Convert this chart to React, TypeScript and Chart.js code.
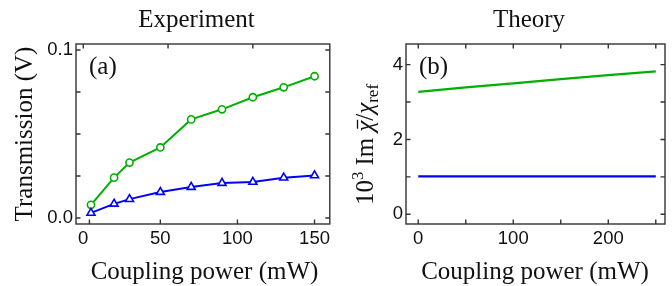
import React, { useEffect, useRef } from 'react';
import { Chart, registerables } from 'chart.js';

Chart.register(...registerables);

// ---------- data ----------
const expPower = [5, 20, 30, 50, 70, 90, 110, 130, 150];
const expGreen = [0.0078, 0.024, 0.033, 0.042, 0.0587, 0.0647, 0.0719, 0.0778, 0.0844];
const expBlue = [0.003, 0.0084, 0.0112, 0.0154, 0.0184, 0.0208, 0.0214, 0.024, 0.0253];

const theoryPower = [0, 50, 100, 150, 200, 250];
const theoryGreen = [3.27, 3.39, 3.5, 3.61, 3.72, 3.82];
const theoryBlue = [1.01, 1.01, 1.01, 1.01, 1.01, 1.01];

const expXLabels = [0, 50, 100, 150];
const expYLabels = [0, 0.1];
const expXTicksBottom = [4, 50, 100, 150];
const expXTicksTop = [0, 55, 110];
const expYTicks = [0, 0.025, 0.05, 0.075, 0.1];

const thXLabels = [0, 100, 200];
const thYLabels = [0, 2, 4];
const thXTicks = [0, 50, 100, 150, 200, 250];
const thYTicks = [0, 1, 2, 3, 4];

const GREEN = '#00b000';
const BLUE = '#0000ff';
const SERIF = '"Liberation Serif", "Times New Roman", serif';
const SANS = '"Liberation Sans", Arial, sans-serif';
const TEXT = '#111';
const FRAME = '#333';

type Deco = {
  title: string;
  titleX: number;
  titleY: number;
  panel: string;
  panelX: number;
  panelY: number;
  xTitle: string;
  xTitleX: number;
  xTitleY: number;
  xTicksBottom: number[];
  xTicksTop: number[];
  yTicks: number[];
  drawYTitle: (ctx: CanvasRenderingContext2D) => void;
};

function makeDeco(d: Deco) {
  return {
    id: 'deco',
    afterDraw(chart: any) {
      const ctx: CanvasRenderingContext2D = chart.ctx;
      const { left, right, top, bottom } = chart.chartArea;
      const xs = chart.scales.x;
      const ys = chart.scales.y;
      ctx.save();
      ctx.strokeStyle = FRAME;
      ctx.lineWidth = 1.4;
      ctx.strokeRect(left, top, right - left, bottom - top);
      const tl = 4.5;
      ctx.beginPath();
      d.xTicksBottom.forEach((v) => {
        const p = xs.getPixelForValue(v);
        ctx.moveTo(p, bottom);
        ctx.lineTo(p, bottom - tl);
      });
      d.xTicksTop.forEach((v) => {
        const p = xs.getPixelForValue(v);
        ctx.moveTo(p, top);
        ctx.lineTo(p, top + tl);
      });
      d.yTicks.forEach((v) => {
        const p = ys.getPixelForValue(v);
        ctx.moveTo(left, p);
        ctx.lineTo(left + tl, p);
        ctx.moveTo(right, p);
        ctx.lineTo(right - tl, p);
      });
      ctx.stroke();

      ctx.fillStyle = TEXT;
      ctx.textBaseline = 'alphabetic';
      ctx.font = `25px ${SERIF}`;
      ctx.textAlign = 'center';
      ctx.fillText(d.title, d.titleX, d.titleY);
      ctx.fillText(d.xTitle, d.xTitleX, d.xTitleY);
      ctx.textAlign = 'left';
      ctx.fillText(d.panel, d.panelX, d.panelY);
      d.drawYTitle(ctx);
      ctx.restore();
    },
  };
}

function drawLeftYTitle(ctx: CanvasRenderingContext2D) {
  ctx.save();
  ctx.translate(32, 134);
  ctx.rotate(-Math.PI / 2);
  ctx.font = `25px ${SERIF}`;
  ctx.textAlign = 'center';
  ctx.textBaseline = 'alphabetic';
  ctx.fillStyle = TEXT;
  ctx.fillText('Transmission (V)', 0, 0);
  ctx.restore();
}

function drawRightYTitle(ctx: CanvasRenderingContext2D) {
  ctx.save();
  ctx.translate(373 - 336, 205);
  ctx.rotate(-Math.PI / 2);
  ctx.textAlign = 'left';
  ctx.textBaseline = 'alphabetic';
  ctx.fillStyle = TEXT;
  ctx.strokeStyle = TEXT;
  const big = `25px ${SERIF}`;
  const small = `17px ${SERIF}`;
  const ital = `italic 25px ${SERIF}`;
  let x = 0;
  const put = (t: string, f: string, dy = 0) => {
    ctx.font = f;
    ctx.fillText(t, x, dy);
    const w = ctx.measureText(t).width;
    const x0 = x;
    x += w;
    return { x0, w };
  };
  put('10', big);
  put('3', small, -10);
  x += 6;
  put('Im', big);
  x += 6;
  const c = put('χ', ital);
  ctx.lineWidth = 1.3;
  ctx.beginPath();
  ctx.moveTo(c.x0 + 3, -15.5);
  ctx.lineTo(c.x0 + c.w + 1, -15.5);
  ctx.stroke();
  put('/', big);
  put('χ', ital);
  put('ref', small, 5);
  ctx.restore();
}

function scaleCommon(
  min: number,
  max: number,
  labels: number[],
  fmt: (v: number) => string,
  size: number,
  isX: boolean,
  pad: number
) {
  return {
    type: 'linear',
    min,
    max,
    grid: { display: false, drawTicks: false },
    border: { display: false },
    afterBuildTicks: (s: any) => {
      s.ticks = labels.map((v) => ({ value: v }));
    },
    afterFit: (s: any) => {
      if (isX) s.height = size;
      else s.width = size;
    },
    ticks: {
      autoSkip: false,
      maxRotation: 0,
      minRotation: 0,
      padding: pad,
      color: TEXT,
      font: { family: SANS, size: 18.5 },
      callback: (v: any) => fmt(Number(v)),
    },
  };
}

function LeftChart() {
  const ref = useRef<HTMLCanvasElement>(null);
  useEffect(() => {
    const chart = new Chart(ref.current!, {
      type: 'scatter',
      data: {
        datasets: [
          {
            data: expPower.map((x, i) => ({ x, y: expBlue[i] })),
            showLine: true,
            borderColor: BLUE,
            borderWidth: 2,
            pointStyle: 'triangle',
            pointRadius: 4.6,
            pointBorderWidth: 1.6,
            pointBackgroundColor: '#fff',
            pointBorderColor: BLUE,
          },
          {
            data: expPower.map((x, i) => ({ x, y: expGreen[i] })),
            showLine: true,
            borderColor: GREEN,
            borderWidth: 2,
            pointStyle: 'circle',
            pointRadius: 3.6,
            pointBorderWidth: 1.6,
            pointBackgroundColor: '#fff',
            pointBorderColor: GREEN,
          },
        ],
      },
      options: {
        animation: false,
        responsive: false,
        layout: { padding: { left: 0, top: 44, right: 2, bottom: 0 } },
        plugins: { legend: { display: false }, tooltip: { enabled: false }, title: { display: false } },
        scales: {
          x: scaleCommon(-4.7, 159.9, expXLabels, (v) => String(v), 62, true, 4),
          y: scaleCommon(-0.0036, 0.1036, expYLabels, (v) => v.toFixed(1), 76, false, 3),
        } as any,
      },
      plugins: [
        makeDeco({
          title: 'Experiment',
          titleX: 196.5,
          titleY: 27,
          panel: '(a)',
          panelX: 89,
          panelY: 74,
          xTitle: 'Coupling power (mW)',
          xTitleX: 204.5,
          xTitleY: 279,
          xTicksBottom: expXTicksBottom,
          xTicksTop: expXTicksTop,
          yTicks: expYTicks,
          drawYTitle: drawLeftYTitle,
        }),
      ],
    } as any);
    return () => chart.destroy();
  }, []);
  return <canvas ref={ref} width={336} height={286} style={{ width: 336, height: 286, display: 'block' }} />;
}

function RightChart() {
  const ref = useRef<HTMLCanvasElement>(null);
  useEffect(() => {
    const chart = new Chart(ref.current!, {
      type: 'scatter',
      data: {
        datasets: [
          {
            data: theoryPower.map((x, i) => ({ x, y: theoryBlue[i] })),
            showLine: true,
            borderColor: BLUE,
            borderWidth: 2.2,
            pointRadius: 0,
          },
          {
            data: theoryPower.map((x, i) => ({ x, y: theoryGreen[i] })),
            showLine: true,
            borderColor: GREEN,
            borderWidth: 2.2,
            pointRadius: 0,
          },
        ],
      },
      options: {
        animation: false,
        responsive: false,
        layout: { padding: { left: 0, top: 44, right: 7, bottom: 0 } },
        plugins: { legend: { display: false }, tooltip: { enabled: false }, title: { display: false } },
        scales: {
          x: scaleCommon(-12.9, 259.7, thXLabels, (v) => String(v), 62, true, 4),
          y: scaleCommon(-0.26, 4.55, thYLabels, (v) => String(v), 70, false, 3),
        } as any,
      },
      plugins: [
        makeDeco({
          title: 'Theory',
          titleX: 529 - 336,
          titleY: 27,
          panel: '(b)',
          panelX: 419 - 336,
          panelY: 74,
          xTitle: 'Coupling power (mW)',
          xTitleX: 535 - 336,
          xTitleY: 279,
          xTicksBottom: thXTicks,
          xTicksTop: thXTicks,
          yTicks: thYTicks,
          drawYTitle: drawRightYTitle,
        }),
      ],
    } as any);
    return () => chart.destroy();
  }, []);
  return <canvas ref={ref} width={336} height={286} style={{ width: 336, height: 286, display: 'block' }} />;
}

export default function App() {
  return (
    <div style={{ position: 'fixed', left: 0, top: 0, width: 672, height: 286, background: '#fff' }}>
      <div style={{ position: 'absolute', left: 0, top: 0 }}>
        <LeftChart />
      </div>
      <div style={{ position: 'absolute', left: 336, top: 0 }}>
        <RightChart />
      </div>
    </div>
  );
}
